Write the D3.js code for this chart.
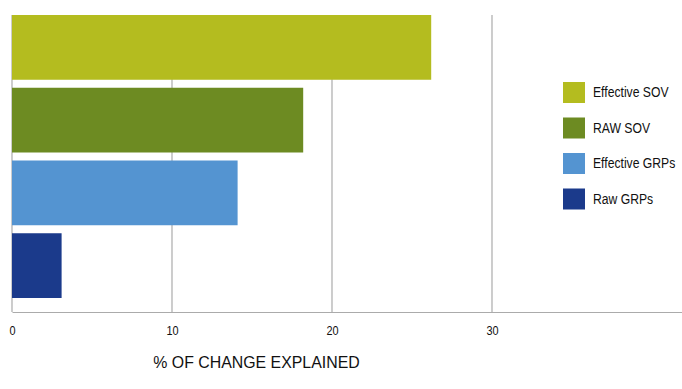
<!DOCTYPE html>
<html lang="en">
<head>
<meta charset="UTF-8">
<title>% of change explained</title>
<script src="https://d3js.org/d3.v7.min.js"></script>
<style>
  body { margin: 0; background: #fff; }
  svg { display: block; font-family: "Liberation Sans", Arial, sans-serif; }
</style>
</head>
<body>
<svg id="chart"></svg>
<script>
  // data
  const categories = ["Effective SOV", "RAW SOV", "Effective GRPs", "Raw GRPs"];
  const values = [26.2, 18.2, 14.1, 3.1];
  const colors = ["#b4bc1f", "#6d8b22", "#5494d1", "#1b3a8b"];
  const tickValues = [0, 10, 20, 30];
  const axisTitle = "% OF CHANGE EXPLAINED";

  const width = 682, height = 389;
  const svg = d3.select("#chart").attr("width", width).attr("height", height);

  const x = d3.scaleLinear().domain([0, 41.875]).range([12, 682]);
  const y = d3.scaleBand().domain(categories).range([15, 298]).paddingInner(0.11).paddingOuter(0);
  const axisY = 312;

  // squeeze text horizontally, the source uses a narrow face
  function narrow(sel, k) {
    sel.each(function () {
      const t = d3.select(this);
      const ax = +t.attr("x"), ay = +t.attr("y");
      t.attr("transform", `translate(${ax},${ay}) scale(${k},1) translate(${-ax},${-ay})`);
    });
  }

  // gridlines
  svg.append("g")
    .selectAll("line")
    .data(tickValues)
    .join("line")
      .attr("x1", d => x(d)).attr("x2", d => x(d))
      .attr("y1", 15).attr("y2", axisY)
      .attr("stroke", "#ababab")
      .attr("stroke-width", 1.2);

  // bars
  svg.append("g")
    .selectAll("rect")
    .data(values)
    .join("rect")
      .attr("x", x(0))
      .attr("y", (d, i) => y(categories[i]))
      .attr("width", d => x(d) - x(0))
      .attr("height", y.bandwidth())
      .attr("fill", (d, i) => colors[i]);

  // bottom axis
  const xAxis = svg.append("g")
    .attr("transform", `translate(0,${axisY})`)
    .call(d3.axisBottom(x).tickValues(tickValues).tickSize(0).tickPadding(14).tickSizeOuter(0));
  xAxis.select(".domain").attr("stroke", "#ababab").attr("stroke-width", 1.2);
  xAxis.selectAll("text")
    .attr("font-size", 13)
    .attr("font-family", "Liberation Sans, Arial, sans-serif")
    .attr("fill", "#111")
    .attr("x", 0).attr("y", 14)
    .call(narrow, 0.84);

  // axis title
  svg.append("text")
    .attr("x", 256.5)
    .attr("y", 368)
    .attr("text-anchor", "middle")
    .attr("font-size", 17)
    .attr("fill", "#111")
    .text(axisTitle)
    .call(narrow, 0.935);

  // legend
  const legend = svg.append("g")
    .selectAll("g")
    .data(categories)
    .join("g")
      .attr("transform", (d, i) => `translate(563,${82 + i * 35.5})`);
  legend.append("rect")
    .attr("width", 22).attr("height", 21)
    .attr("fill", (d, i) => colors[i]);
  legend.append("text")
    .attr("x", 30).attr("y", 15.5)
    .attr("font-size", 14)
    .attr("fill", "#111")
    .text(d => d)
    .call(narrow, 0.87);
</script>
</body>
</html>
